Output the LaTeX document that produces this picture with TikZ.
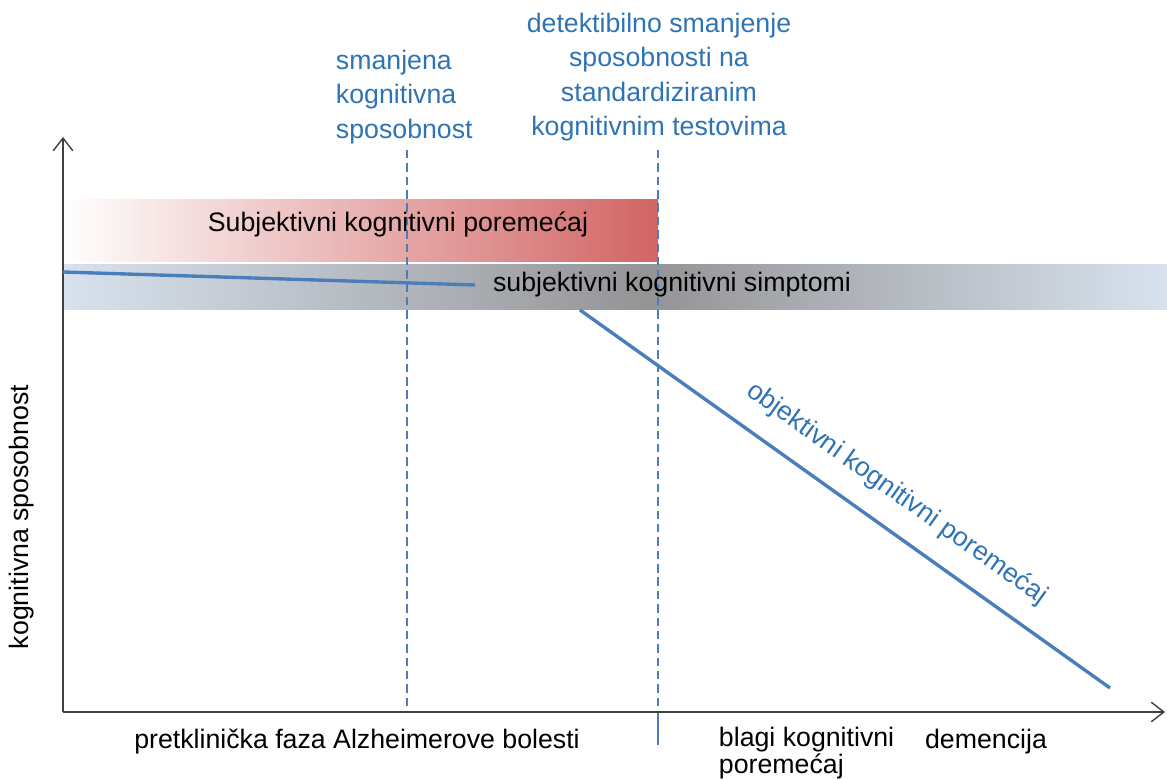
\documentclass[tikz,border=0pt]{standalone}
\usepackage{fontspec}
\setmainfont{Liberation Sans}
\usetikzlibrary{arrows,arrows.meta,positioning}
\definecolor{lineblue}{RGB}{74,126,187}
\definecolor{textblue}{RGB}{46,116,181}
\definecolor{bandred}{RGB}{210,100,100}
\definecolor{bandgray}{RGB}{148,148,150}
\definecolor{bandblue}{RGB}{216,226,238}

\begin{document}
\begin{tikzpicture}[x=0.025cm,y=-0.025cm,>={Straight Barb[length=9pt,width=14pt]},
	font=\fontsize{19}{24.5}\selectfont,
	axis/.style={->,line width=1pt,black!75},
	marker/.style={lineblue,line width=1.4pt,dash pattern=on 6pt off 3.5pt},
	trend/.style={lineblue,line width=2.4pt},
	phase/.style={text=textblue}]
		\useasboundingbox (0,0) rectangle (1167,780);

		\shade[left color=white,right color=bandred] (63,200) rectangle (658,262);
		\shade[left color=bandblue,right color=bandgray] (63,265) rectangle (650,310);
		\shade[left color=bandgray,right color=bandblue] (650,265) rectangle (1167,310);

		\coordinate (o) at (63,712);
		\coordinate (yE) at (63,137);
		\coordinate (xE) at (1165,712);
		\coordinate (m1t) at (407,150);
		\coordinate (m1b) at (407,712);
		\coordinate (m2t) at (658,150);
		\coordinate (m2x) at (658,712);
		\coordinate (m2b) at (658,745);
		\coordinate (s1) at (63,272);
		\coordinate (s2) at (475,285);
		\coordinate (t1) at (580,310);
		\coordinate (t2) at (1110,688);

		\draw[marker] (m1t) -- (m1b);
		\draw[marker] (m2t) -- (m2x);
		\draw[lineblue,line width=1.4pt] (m2x) -- (m2b);
		\draw[axis] (o) -- (yE);
		\draw[axis] (o) -- (xE);

		\draw[trend] (s1) -- (s2);
		\draw[trend] (t1) -- (t2)
			node[pos=0.56,sloped,above=11pt,phase] (obj) {objektivni kognitivni poremećaj};

		\node (skp) at (398,224) {Subjektivni kognitivni poremećaj};
		\node (sks) at (672,285) {subjektivni kognitivni simptomi};

		\node[phase,align=left,anchor=west] (smanj) at (331,97) {smanjena\\kognitivna\\sposobnost};
		\node[phase,align=center] (detekt) at (659,77) {detektibilno smanjenje\\sposobnosti na\\standardiziranim\\kognitivnim testovima};

		\node[rotate=90] (ylab) at (22,517) {kognitivna sposobnost};
		\node (pret) at (357,742) {pretklinička faza Alzheimerove bolesti};
		\node[align=left,anchor=west,font=\fontsize{19}{16.5}\selectfont] (blagi) at (714,753) {blagi kognitivni\\poremećaj};
		\node (dem) at (986,742) {demencija};
	\end{tikzpicture}
\end{document}
